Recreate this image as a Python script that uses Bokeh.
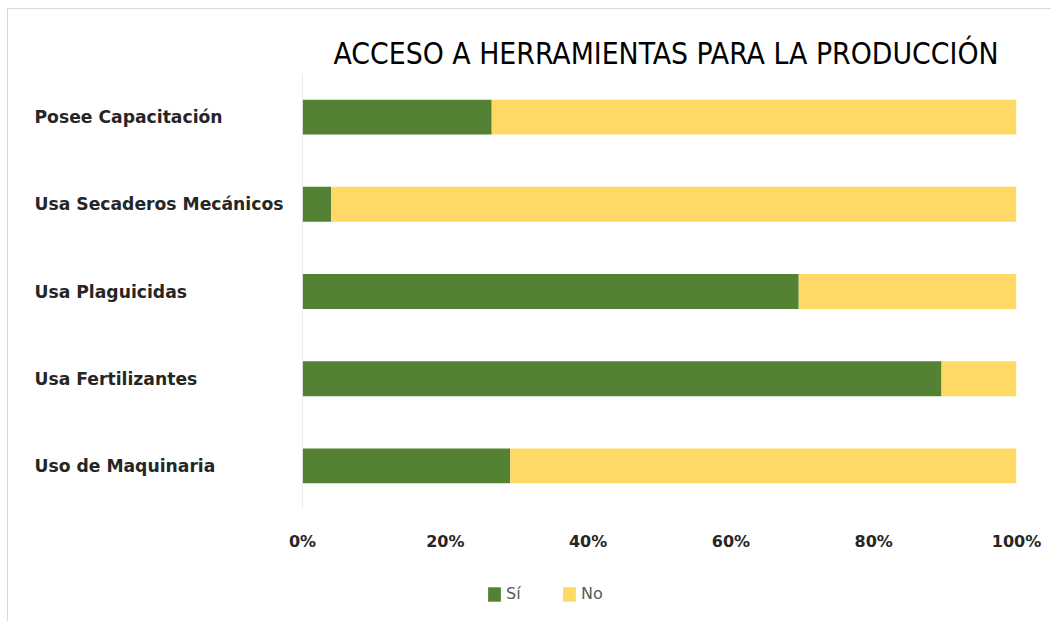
from bokeh.plotting import figure
from bokeh.layouts import row, column
from bokeh.models import (Range1d, FactorRange, FixedTicker, PrintfTickFormatter,
                          ColumnDataSource, Legend, LegendItem, Span)
from bokeh.core.properties import value
from bokeh.embed import file_html
from bokeh.resources import INLINE

# ---- data (bottom to top) ----
categories = ["Uso de Maquinaria", "Usa Fertilizantes", "Usa Plaguicidas",
              "Usa Secaderos Mecánicos", "Posee Capacitación"]
si = [29.1, 89.5, 69.5, 4.0, 26.5]
no = [70.9, 10.5, 30.5, 96.0, 73.5]
x_ticks = [0, 20, 40, 60, 80, 100]
series_names = ["Sí", "No"]
title_text = "ACCESO A HERRAMIENTAS PARA LA PRODUCCIÓN"

GREEN = "#548235"
YELLOW = "#FFD966"
TEXT = "#262626"
LEGEND_TEXT = "#595959"
LABEL_FONT = "DejaVu Sans"
TITLE_FONT = "DejaVu Sans Condensed, Liberation Sans Narrow, Roboto"

source = ColumnDataSource(dict(cat=categories, si=si, no=no, x0=[0] * len(categories)))
y_range = FactorRange(*categories)

TOP, BOTTOM, H = 64, 53, 553
PAD_L, PAD_R = 15, 30

# ---- main chart ----
p = figure(width=714 + PAD_L + PAD_R, height=H, y_range=y_range, x_range=Range1d(0, 100),
           y_axis_location=None,
           output_backend="svg", toolbar_location=None,
           min_border_left=PAD_L, min_border_right=PAD_R,
           min_border_top=TOP, min_border_bottom=BOTTOM)

rs = p.hbar_stack(["si", "no"], y="cat", height=0.4, color=[GREEN, YELLOW],
                  source=source, line_color=None)

p.title.text = title_text
p.title.align = "left"
p.title.offset = 31
p.title.text_font = TITLE_FONT
p.title.text_font_size = "29.8px"
p.title.text_font_style = "normal"
p.title.text_color = "#000000"
p.title.standoff = 5

p.xaxis.ticker = FixedTicker(ticks=x_ticks)
p.xaxis.formatter = PrintfTickFormatter(format="%d%%")
p.xaxis.axis_line_color = None
p.xaxis.major_tick_line_color = None
p.xaxis.minor_tick_line_color = None
p.xaxis.major_tick_out = 0
p.xaxis.major_tick_in = 0
p.xaxis.major_label_text_font = LABEL_FONT
p.xaxis.major_label_text_font_size = "16px"
p.xaxis.major_label_text_font_style = "bold"
p.xaxis.major_label_text_color = TEXT
p.xaxis.major_label_standoff = 22

p.add_layout(Span(location=0, dimension="height", line_color="#d9d9d9", line_width=1))
p.xgrid.grid_line_color = None
p.ygrid.grid_line_color = None
p.outline_line_color = None

# ---- category labels (left aligned), sharing the y range ----
lab = figure(width=294 - PAD_L, height=H, y_range=y_range, x_range=Range1d(0, 1),
             x_axis_location=None, y_axis_location=None,
             output_backend="svg", toolbar_location=None,
             min_border_left=0, min_border_right=0,
             min_border_top=TOP, min_border_bottom=BOTTOM)
lab.text(x="x0", y="cat", text="cat", source=source, x_offset=26,
         text_align="left", text_baseline="middle",
         text_font=value(LABEL_FONT), text_font_size="17.2px",
         text_font_style="bold", text_color=TEXT)
lab.grid.visible = False
lab.outline_line_color = None

# ---- legend strip (series renderers hidden; only the legend shows) ----
leg = figure(width=1044, height=60, x_range=Range1d(0, 100), y_range=y_range,
             x_axis_location=None, y_axis_location=None,
             output_backend="svg", toolbar_location=None,
             min_border_left=0, min_border_right=0,
             min_border_top=0, min_border_bottom=0)
leg.grid.visible = False
leg.outline_line_color = None
lr = leg.hbar_stack(["si", "no"], y="cat", height=0.4, color=[GREEN, YELLOW],
                    source=source, line_color=None)
for r in lr:
    r.visible = False
legend = Legend(items=[LegendItem(label=series_names[0], renderers=[lr[0]]),
                       LegendItem(label=series_names[1], renderers=[lr[1]])],
                orientation="horizontal", location=(478, 19),
                border_line_color=None, background_fill_alpha=0,
                glyph_width=16, glyph_height=18, label_standoff=4, spacing=35,
                label_text_font=LABEL_FONT, label_text_font_size="16px",
                label_text_color=LEGEND_TEXT, label_height=18,
                click_policy="none", inactive_fill_alpha=0,
                padding=0, margin=0)
leg.add_layout(legend)

layout = column(row(lab, p), leg, margin=(9, 0, 0, 8),
                styles={"box-shadow": "-1px -1px 0 0 #d9d9d9"})

open("out.html", "w").write(file_html(layout, INLINE))
